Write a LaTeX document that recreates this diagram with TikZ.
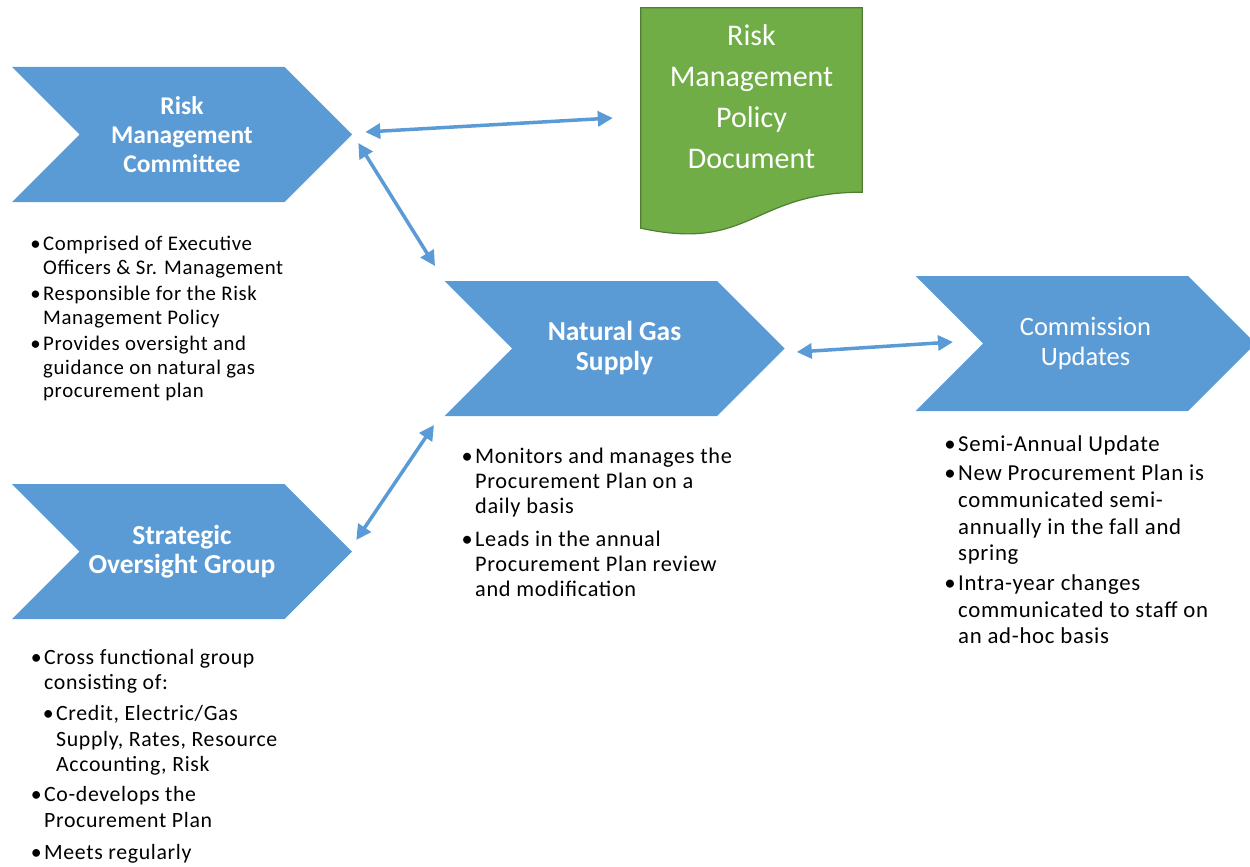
\documentclass[tikz,border=0pt]{standalone}
\usepackage{fontspec}
\setmainfont{Carlito}
\usetikzlibrary{shapes.symbols,arrows.meta,calc,backgrounds}
\definecolor{chevblue}{HTML}{5B9BD5}
\definecolor{docgreen}{HTML}{70AD47}
\definecolor{docedge}{HTML}{507E32}
\newcommand{\bul}{\llap{\textbullet\hspace{2.5pt}}}

\begin{document}
\begin{tikzpicture}[x=1pt,y=-1pt,
	chevron/.style={shape=signal,signal to=east,signal from=west,signal pointer angle=90,
		fill=chevblue,draw=none,minimum width=340pt,minimum height=135pt,inner sep=0pt,
		text=white,align=center},
	notes/.style={anchor=north west,inner sep=0pt,align=left},
	link/.style={draw=chevblue,line width=3.5pt,
		{Triangle[length=15pt,width=15pt]}-{Triangle[length=15pt,width=15pt]}}]
		\useasboundingbox (0,0) rectangle (1250,867);
		\node[chevron,font=\bfseries\fontsize{25.5}{29}\selectfont] (rmc) at (182,134.5) {Risk\\Management\\Committee};
		\node[chevron,font=\bfseries\fontsize{27.5}{29}\selectfont] (sog) at (182,551.5) {Strategic\\Oversight Group};
		\node[chevron,font=\bfseries\fontsize{27.5}{30}\selectfont] (ng) at (614.5,348.5) {Natural Gas\\Supply};
		\node[chevron,font=\fontsize{26.5}{30}\selectfont] (cu) at (1085.5,343.5) {\raisebox{-3pt}{Commission}\\\raisebox{-3pt}{Updates}};
		\node[minimum width=221pt,minimum height=178pt,inner sep=0pt,text=white,align=center,
			font=\fontsize{30}{41}\selectfont] (doc) at (751.5,97) {Risk\\Management\\Policy\\Document};
		\begin{scope}[on background layer]
		\draw[fill=docgreen,draw=docedge,line width=1.2pt] (doc.north west) -- (doc.north east)
			-- ($(doc.south east)+(0,6)$) .. controls ($(doc.south)+(0,6)$) and ($(doc.south)+(0,66)$)
			.. ($(doc.south west)+(0,42)$) -- cycle;
		\end{scope}
		\draw[link] ($(rmc.east)+(13,-2.5)$) -- ($(doc.west)+(-28,21)$);
		\draw[link] ($(rmc.east)+(6,8.5)$) -- ($(ng.center)+(-179.5,-82.5)$);
		\draw[link] ($(sog.east)+(4,-11.5)$) -- ($(ng.center)+(-180.5,76.5)$);
		\draw[link] ($(ng.east)+(12,3.5)$) -- ($(cu.center)+(-132.5,-1.5)$);
		\node[notes,font=\fontsize{20.8}{23.5}\selectfont\addfontfeature{LetterSpace=3}] (rmcnotes) at (43,236) {\bul Comprised of Executive\\
			Officers \& Sr. Management\\[3pt]
			\bul Responsible for the Risk\\
			Management Policy\\[3pt]
			\bul Provides oversight and\\
			guidance on natural gas\\
			procurement plan};
		\node[notes,font=\fontsize{21.8}{25.3}\selectfont\addfontfeature{LetterSpace=3}] (sognotes) at (44,649) {\bul Cross functional group\\
			consisting of:\\[6pt]
			\hspace*{12pt}\bul Credit, Electric/Gas\\
			\hspace*{12pt}Supply, Rates, Resource\\
			\hspace*{12pt}Accounting, Risk\\[5pt]
			\bul Co-develops the\\
			Procurement Plan\\[7pt]
			\bul Meets regularly};
		\node[notes,font=\fontsize{22.3}{25}\selectfont\addfontfeature{LetterSpace=3}] (ngnotes) at (475,448) {\bul Monitors and manages the\\
			Procurement Plan on a\\
			daily basis\\[8pt]
			\bul Leads in the annual\\
			Procurement Plan review\\
			and modification};
		\node[notes,font=\fontsize{22.8}{26.7}\selectfont\addfontfeature{LetterSpace=3}] (cunotes) at (958,435) {\bul Semi-Annual Update\\[3pt]
			\bul New Procurement Plan is\\
			communicated semi-\\
			annually in the fall and\\
			spring\\[3pt]
			\bul Intra-year changes\\
			communicated to staff on\\
			an ad-hoc basis};
	\end{tikzpicture}
\end{document}
